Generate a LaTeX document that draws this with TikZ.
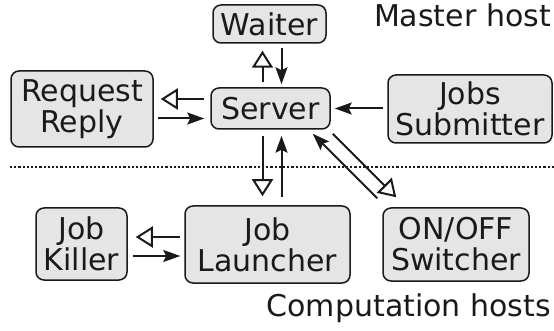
\documentclass[tikz,border=0pt]{standalone}
\usepackage{fontspec}
\setmainfont{DejaVu Sans}
\usetikzlibrary{arrows.meta,calc}
\definecolor{boxfill}{HTML}{E5E5E5}
\definecolor{ink}{HTML}{1A1A1A}
\tikzset{
  box/.style={draw=ink, fill=boxfill, line width=1.5pt, rounded corners=8pt,
    inner sep=0pt, align=center, text=ink, font=\fontsize{30}{31}\selectfont},
  lbl/.style={inner sep=0pt, text=ink, font=\fontsize{30}{31}\selectfont},
  solidarr/.style={draw=ink, line width=2pt, -{Stealth[length=17pt,width=12pt,inset=3pt]}},
  openarr/.style={draw=ink, line width=2pt, -{Triangle[open,length=17pt,width=21pt]}},
}
\begin{document}
\begin{tikzpicture}[x=1pt,y=-1pt]
\useasboundingbox (0,0) rectangle (554,331);
\node[box, minimum width=113pt, minimum height=38pt] (wai) at (269.5,24) {Waiter};
\node[box, minimum width=142pt, minimum height=76pt] (req) at (82,109) {Request\\Reply};
\node[box, minimum width=119pt, minimum height=41pt] (srv) at (270.5,108.5) {Server};
\node[box, minimum width=164pt, minimum height=68pt] (sub) at (470,109) {Jobs\\Submitter};
\node[box, minimum width=91pt, minimum height=72pt] (kil) at (81.5,244) {Job\\Killer};
\node[box, minimum width=165pt, minimum height=77pt] (lau) at (267.5,244.5) {Job\\Launcher};
\node[box, minimum width=146pt, minimum height=73pt] (onf) at (456,244.5) {ON/OFF\\Switcher};
\node[lbl, anchor=base east] (mh) at (551,27) {Master host};
\node[lbl, anchor=base east] (ch) at (551,316) {Computation hosts};
% separator
\coordinate (sepL) at (10,167);
\coordinate (sepR) at (554,167);
\draw[ink, line width=2.2pt, dash pattern=on 2.2pt off 2pt] (sepL) -- (sepR);
% Server <-> Waiter
\draw[openarr] ($(srv.north)+(-8,-5)$) -- ($(srv.north |- wai.south)+(-8,7)$);
\draw[solidarr] ($(srv.north |- wai.south)+(11,4)$) -- ($(srv.north)+(11,-3)$);
% Server <-> Request
\draw[openarr] ($(srv.west)+(-6,-9.5)$) -- ($(req.east |- srv.west)+(7,-9.5)$);
\draw[solidarr] ($(req.east |- srv.west)+(4,10)$) -- ($(srv.west)+(-6,10)$);
% Submitter -> Server
\draw[solidarr] ($(sub.west |- srv.east)+(-4,0)$) -- ($(srv.east)+(4,0)$);
% Server <-> Launcher
\draw[openarr] ($(srv.south)+(-8,6)$) -- ($(srv.south |- lau.north)+(-8,-9)$);
\draw[solidarr] ($(srv.south |- lau.north)+(11,-8)$) -- ($(srv.south)+(11,6)$);
% Server <-> ON/OFF
\draw[solidarr] ($(onf.north west)+(-5,-9)$) -- ($(srv.south east)+(-18,4)$);
\draw[openarr] ($(srv.south east)+(2,4)$) -- ($(onf.north west)+(14,-10)$);
% Launcher <-> Killer
\draw[openarr] ($(lau.west)+(-4,-7.5)$) -- ($(kil.east |- lau.west)+(8,-7.5)$);
\draw[solidarr] ($(kil.east |- lau.west)+(5,11.5)$) -- ($(lau.west)+(-4,11.5)$);
\end{tikzpicture}
\end{document}
